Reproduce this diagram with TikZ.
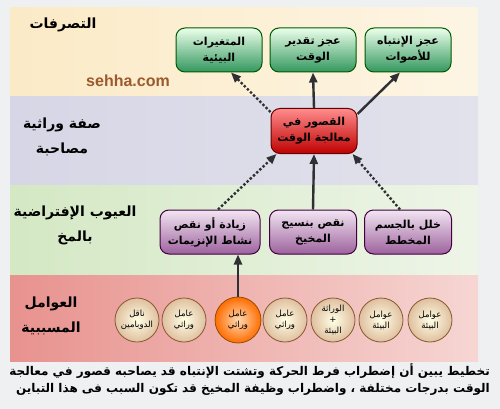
\documentclass[tikz,border=0pt]{standalone}
\usepackage{fontspec}
\usepackage{tikz}
\usetikzlibrary{arrows.meta}
\usetikzlibrary{positioning}
\usetikzlibrary{shapes}

\TeXXeTstate=1
\newfontfamily\arabicfont[Script=Arabic]{DejaVu Sans}
\newfontfamily\latinfont{Liberation Sans}
\newcommand{\rl}[1]{\beginR #1\endR}

\definecolor{pagegray}{HTML}{EEF0F2}
\definecolor{arrowgray}{HTML}{2E3033}
\definecolor{sitebrown}{HTML}{9C5A2E}
\definecolor{creamleft}{HTML}{FBEAC6}
\definecolor{creamright}{HTML}{FDF5E4}
\definecolor{lavleft}{HTML}{D6D6E6}
\definecolor{lavright}{HTML}{E2E2EC}
\definecolor{greenleft}{HTML}{D4E8C4}
\definecolor{greenright}{HTML}{EEF5E8}
\definecolor{pinkleft}{HTML}{E8928E}
\definecolor{pinkright}{HTML}{F6D6D3}

\begin{document}
\begin{tikzpicture}[x=1pt,y=-1pt,
    effect/.style={rectangle,rounded corners=9pt,draw=green!35!black,line width=1pt,
      top color=green!8!white,bottom color=teal!60!green!70!black!80,
      minimum width=86pt,minimum height=44pt,align=center,
      font=\arabicfont\bfseries\fontsize{11}{16}\selectfont},
    deficit/.style={rectangle,rounded corners=9pt,draw=red!40!black,line width=1pt,
      top color=red!45!white,bottom color=red!75!black,
      minimum width=86pt,minimum height=45pt,align=center,
      font=\arabicfont\bfseries\fontsize{11}{16}\selectfont},
    defect/.style={rectangle,rounded corners=9pt,draw=violet!50!black,line width=1pt,
      top color=violet!10!white,bottom color=violet!55!white!85!black,
      minimum height=44pt,align=center,
      font=\arabicfont\bfseries\fontsize{11}{16}\selectfont},
    cause/.style={circle,draw=brown!70!black,line width=0.8pt,
      inner color=yellow!10!white,outer color=brown!50!white,
      minimum size=44pt,inner sep=0pt,align=center,
      font=\arabicfont\fontsize{8.5}{11}\selectfont},
    bandlabel/.style={align=center,font=\arabicfont\bfseries\fontsize{14}{25}\selectfont},
    solidarrow/.style={draw=arrowgray,line width=2.4pt,-{Triangle[length=10pt,width=8pt]}},
    dotarrow/.style={draw=arrowgray,line width=2.4pt,dotted,-{Triangle[length=10pt,width=8pt]}}]

  \useasboundingbox (0,0) rectangle (500,409);
  \fill[pagegray] (0,0) rectangle (500,409);

  % bands
  \fill[left color=creamleft,right color=creamright] (10,8) rectangle (478,97);
  \fill[left color=lavleft,right color=lavright] (10,97) rectangle (478,185);
  \fill[left color=greenleft,right color=greenright] (10,185) rectangle (478,275);
  \fill[left color=pinkleft,right color=pinkright] (10,275) rectangle (478,361);

  % band labels
  \node[bandlabel] (lblbehav) at (63,25) {\rl{التصرفات}};
  \node[bandlabel] (lbltrait) at (62,137) {\rl{صفة وراثية}\\\rl{مصاحبة}};
  \node[bandlabel] (lblbrain) at (75,225) {\rl{العيوب الإفتراضية}\\\rl{بالمخ}};
  \node[bandlabel] (lblcause) at (51,316) {\rl{العوامل}\\\rl{المسببية}};
  \node[text=sitebrown,font=\latinfont\bfseries\fontsize{16}{18}\selectfont] (site) at (128,81) {sehha.com};

  % behaviour
  \node[effect] (envvar) at (219,50) {\rl{المتغيرات}\\\rl{البيئية}};
  \node[effect] (timeest) at (313,50) {\rl{عجز تقدير}\\\rl{الوقت}};
  \node[effect] (sounds) at (408,50) {\rl{عجز الإنتباه}\\\rl{للأصوات}};

  % trait
  \node[deficit] (timeproc) at (314,131) {\rl{القصور في}\\\rl{معالجة الوقت}};

  % brain defects
  \node[defect,minimum width=100pt] (enzyme) at (210,232) {\rl{زيادة أو نقص}\\\rl{نشاط الإنزيمات}};
  \node[defect,minimum width=87pt] (cereb) at (313,232) {\rl{نقص بنسيج}\\\rl{المخيخ}};
  \node[defect,minimum width=87pt] (striat) at (408,232) {\rl{خلل بالجسم}\\\rl{المخطط}};

  % causes
  \node[cause] (c1) at (137,320) {\rl{ناقل}\\\rl{الدوبامين}};
  \node[cause] (c2) at (184,320) {\rl{عامل}\\\rl{وراثي}};
  \node[cause,inner color=orange!30!white,outer color=orange!85!red,draw=orange!60!black,minimum size=46pt] (c3) at (238,320) {\rl{عامل}\\\rl{وراثي}};
  \node[cause] (c4) at (285,320) {\rl{عامل}\\\rl{وراثي}};
  \node[cause] (c5) at (333,320) {\rl{الوراثة}\\+\\\rl{البيئة}};
  \node[cause] (c6) at (381,320) {\rl{عوامل}\\\rl{البيئة}};
  \node[cause] (c7) at (430,320) {\rl{عوامل}\\\rl{البيئة}};

  % arrows
  \path[dotarrow] ([yshift=-4]timeproc.north west) -- ([xshift=12]envvar.south);
  \path[solidarrow] (timeproc.north) -- (timeest.south);
  \path[solidarrow] ([yshift=-6]timeproc.north east) -- ([xshift=-8]sounds.south);
  \path[dotarrow] ([xshift=8]enzyme.north) -- ([xshift=6]timeproc.south west);
  \path[solidarrow] (cereb.north) -- (timeproc.south);
  \path[dotarrow] ([xshift=-8]striat.north) -- ([xshift=-5]timeproc.south east);
  \path[solidarrow] (c3.north) -- ([xshift=28]enzyme.south);

  % caption
  \node[anchor=north east,align=right,inner sep=0pt,
    font=\arabicfont\bfseries\fontsize{12}{17}\selectfont] (caption) at (490,363)
    {\rl{تخطيط يبين أن إضطراب فرط الحركة وتشتت الإنتباه قد يصاحبه قصور في معالجة}\\
     \rl{الوقت بدرجات مختلفة ، واضطراب  وظيفة المخيخ قد تكون السبب فى هذا التباين}};
\end{tikzpicture}
\end{document}
